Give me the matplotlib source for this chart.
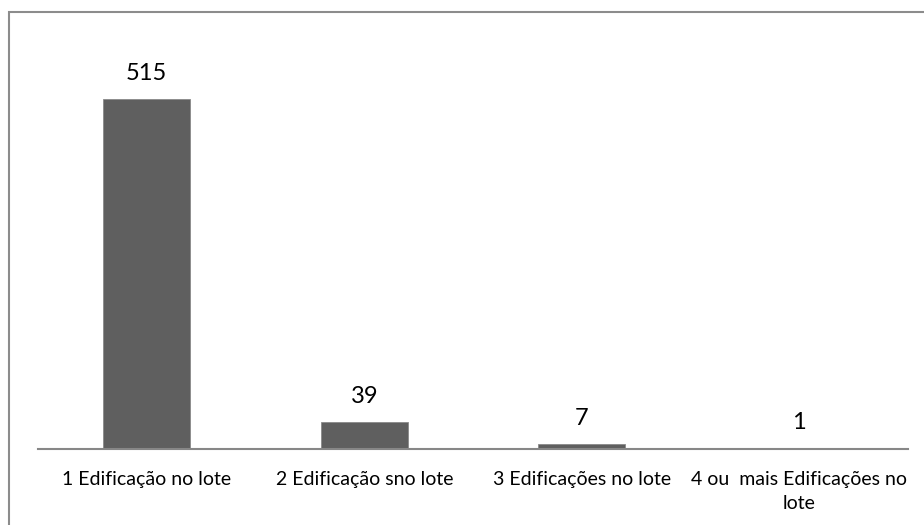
import matplotlib.pyplot as plt
from matplotlib.patches import Rectangle

categorias = ['1 Edificação no lote', '2 Edificação sno lote',
              '3 Edificações no lote', '4 ou  mais Edificações no\nlote']
valores = [515, 39, 7, 1]

plt.rcParams['font.family'] = ['Lato', 'DejaVu Sans']

W, H = 924, 525
fig = plt.figure(figsize=(W / 100, H / 100), dpi=100)

# moldura do gráfico (só esquerda e topo aparecem)
fig.patches.append(Rectangle((9 / W, -0.1), 1.2, (H - 12) / H + 0.1,
                             transform=fig.transFigure, fill=False,
                             edgecolor='#8c8c8c', linewidth=1.5))

ax = fig.add_axes([38 / W, 76 / H, 870 / W, 408 / H])
x = range(len(valores))
ax.bar(x, valores, width=0.4, color='#5f5f5f', edgecolor='#8a8a8a', linewidth=0.6)
ax.set_xlim(-0.5, len(valores) - 0.5)
ax.set_ylim(0, 600)

for i, v in enumerate(valores):
    ax.annotate(str(v), (i, v), xytext=(0, 11), textcoords='offset points',
                ha='center', va='bottom', fontsize=17)

ax.set_xticks(list(x))
ax.set_xticklabels(categorias, fontsize=14, multialignment='center', va='top',
                   linespacing=1.45)
ax.tick_params(axis='x', length=0, pad=16)
ax.set_yticks([])
for s in ['left', 'right', 'top']:
    ax.spines[s].set_visible(False)
ax.spines['bottom'].set_color('#878787')
ax.spines['bottom'].set_linewidth(1.5)

fig.savefig('out.png', dpi=100)
